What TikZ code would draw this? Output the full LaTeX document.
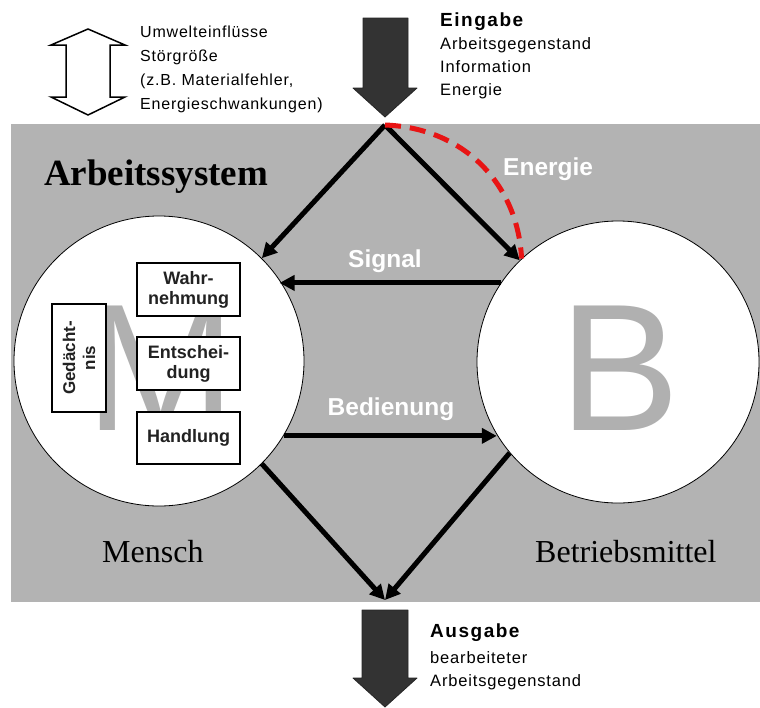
\documentclass[tikz,border=0pt]{standalone}
\usepackage{fontspec}
\setmainfont{Liberation Serif}
\setsansfont{Liberation Sans}
\newfontfamily\scrfont[LetterSpace=5]{Liberation Sans}
\usetikzlibrary{arrows.meta,calc}
\definecolor{sysgrey}{RGB}{179,179,179}
\definecolor{lettergrey}{RGB}{176,176,176}
\definecolor{blockdark}{RGB}{51,51,51}
\definecolor{edred}{RGB}{232,20,20}
\definecolor{boxtext}{RGB}{34,34,34}
\tikzset{
  conn/.style={line width=5pt,-{Triangle[length=15pt,width=15pt]}},
  energy/.style={edred,line width=5pt,dash pattern=on 16pt off 9pt},
  bigcircle/.style={circle,draw=black,line width=0.8pt,fill=white,inner sep=0pt},
  bigletter/.style={anchor=base,inner sep=0pt,text=lettergrey,font=\sffamily\fontsize{181}{181}\selectfont},
  mbox/.style={draw=black,line width=1.3pt,fill=white,inner sep=0pt,align=center,text=boxtext,
     font=\sffamily\bfseries\fontsize{18}{20}\selectfont},
  flowlabel/.style={inner sep=0pt,text=white,font=\sffamily\bfseries\fontsize{24.5}{26}\selectfont},
  sidelabel/.style={anchor=base west,inner sep=0pt,font=\rmfamily\fontsize{32}{34}\selectfont},
  infotext/.style={anchor=base west,inner sep=0pt},
  blockarrow/.style={fill=blockdark,draw=black!85,line width=0.8pt,line join=round},
  outlinearrow/.style={fill=white,draw=black,line width=1.5pt,line join=miter}
}
\begin{document}
\begin{tikzpicture}[x=1pt,y=-1pt]
\useasboundingbox (0,0) rectangle (760,707);
\fill[white] (0,0) rectangle (760,707);

% system area
\node[fill=sysgrey,minimum width=749pt,minimum height=478pt,inner sep=0pt,anchor=north west] (sys) at (11,124) {};
\node[anchor=base west,inner sep=0pt,font=\rmfamily\bfseries\fontsize{37}{40}\selectfont] (title) at (44,185) {Arbeitssystem};

% environment influences
\draw[outlinearrow] (88,29) -- (125,45) -- (110,45) -- (110,97) -- (125,97) -- (88,115)
   -- (51,97) -- (66,97) -- (66,45) -- (51,45) -- cycle;
\node[infotext] (umwelt) at (140,37) {\scrfont\fontsize{16}{24}\selectfont
  \begin{tabular}[t]{@{}l@{}}Umwelteinflüsse\\Störgröße\\(z.B. Materialfehler,\\Energieschwankungen)\end{tabular}};

% input
\draw[blockarrow] (363,18) -- (408,18) -- (408,88) -- (417,88) -- (385,117) -- (353,88) -- (363,88) -- cycle;
\node[infotext] (eingabe) at (440,26) {\scrfont\fontsize{16.5}{23}\selectfont
  \begin{tabular}[t]{@{}l@{}}{\bfseries\addfontfeature{LetterSpace=8}\fontsize{19}{23}\selectfont Eingabe}\\Arbeitsgegenstand\\Information\\Energie\end{tabular}};

% output
\draw[blockarrow] (362,610) -- (408,610) -- (408,678) -- (417,678) -- (385,707) -- (353,678) -- (362,678) -- cycle;
\node[infotext] (ausgabe) at (430,637) {\scrfont\fontsize{16.5}{23}\selectfont
  \begin{tabular}[t]{@{}l@{}}{\bfseries\addfontfeature{LetterSpace=8}\fontsize{19}{23}\selectfont Ausgabe}\\[3pt]bearbeiteter\\Arbeitsgegenstand\end{tabular}};

% circles
\node[bigcircle,minimum size=290pt] (M) at (159,361) {};
\node[bigcircle,minimum size=282pt] (B) at (618,362) {};
\node[bigletter] (Mletter) at (161,430) {M};
\node[bigletter] (Bletter) at (620,430) {B};

% boxes in Mensch
\node[mbox,minimum width=103pt,minimum height=53pt] (wahr) at (188.5,289.5) {Wahr-\\nehmung};
\node[mbox,minimum width=103pt,minimum height=53pt] (entsch) at (188.5,363.5) {Entschei-\\dung};
\node[mbox,minimum width=103pt,minimum height=52pt] (hand) at (188.5,438) {Handlung};
\node[mbox,minimum width=108pt,minimum height=54pt,rotate=90,font=\sffamily\bfseries\fontsize{17}{20}\selectfont] (ged) at (79,358) {Gedächt-\\nis};

% labels
\node[sidelabel] (mensch) at (102,562) {Mensch};
\node[sidelabel] (betrieb) at (535,562) {Betriebsmittel};

% connectors
\coordinate (apex) at (385,125);
\coordinate (bot) at (385,600);
\draw[conn] (apex) -- (M.45);
\draw[conn] (apex) -- (B.134);
\draw[conn] (B.146) -- (M.34 |- B.146);
\draw[conn] (M.-31) -- (B.211 |- M.-31);
\draw[conn] (M.-45) -- (bot);
\draw[conn] (B.220) -- (bot);
\draw[energy] (apex) .. controls (465,128) and (518,185) .. (B.133);

\node[flowlabel,anchor=base] (signal) at (385,267) {Signal};
\node[flowlabel,anchor=base] (bedienung) at (391,415) {Bedienung};
\node[flowlabel,anchor=base west] (energie) at (503,175) {Energie};
\end{tikzpicture}
\end{document}
